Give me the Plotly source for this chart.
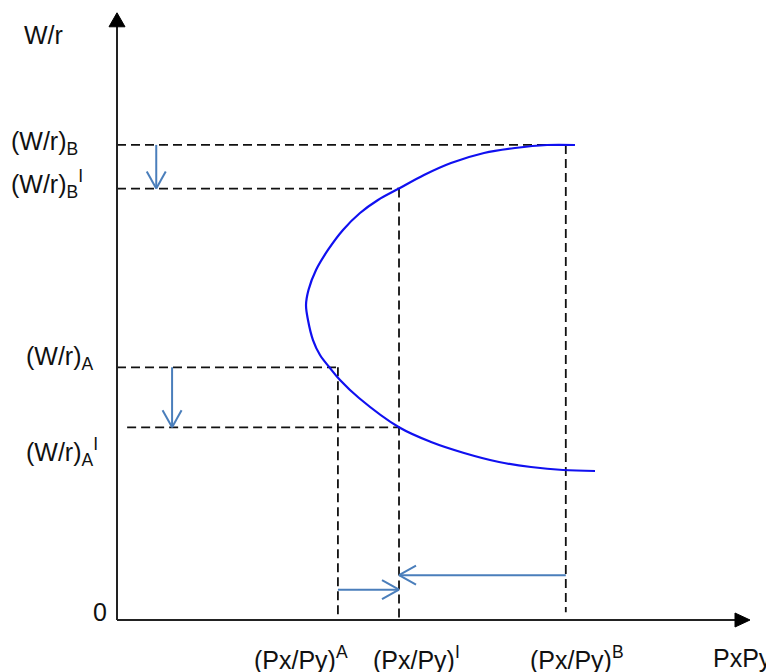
import plotly.graph_objects as go

# ---------------- data (arbitrary model units) ----------------
wr_levels = {"B": 7.84, "B1": 7.12, "A": 4.17, "A1": 3.18}
px_levels = {"A": 3.49, "I": 4.455, "B": 7.09}

curve_x = [7.235, 6.793, 6.288, 5.798, 5.276, 4.850, 4.455, 4.123, 3.839, 3.570,
           3.333, 3.144, 3.025, 2.986, 3.017, 3.096, 3.207, 3.365, 3.523, 3.823,
           4.455, 4.961, 5.482, 6.035, 6.540, 7.046, 7.551]
curve_y = [7.838, 7.838, 7.789, 7.706, 7.541, 7.343, 7.120, 6.931, 6.716, 6.436,
           6.106, 5.776, 5.446, 5.198, 4.950, 4.620, 4.373, 4.158, 3.960, 3.663,
           3.180, 2.937, 2.756, 2.607, 2.525, 2.475, 2.459]

axis_max = [10.0, 10.02]          # x-axis end, y-axis end
shift_arrow_x = [0.62, 0.87]      # x of the two downward shift arrows
shift_arrow_y = [0.50, 0.74]      # y of the two horizontal shift arrows

x_labels = ["(Px/Py)<sup>A</sup>", "(Px/Py)<sup>I</sup>", "(Px/Py)<sup>B</sup>", "PxPy"]
y_labels = ["(W/r)<sub>B</sub>", "(W/r)<sub>B</sub><sup>I</sup>",
            "(W/r)<sub>A</sub>", "(W/r)<sub>A</sub><sup>I</sup>"]

# ---------------- figure ----------------
# page has an 8px body margin, so the figure is 766x664
W, H = 766, 664
X_RANGE = [-1.722, 10.379]
Y_RANGE = [-0.858, 10.099]

BLUE = "#4A7EBB"
FONT = dict(family="Liberation Sans, Arial, sans-serif", size=25, color="#111111")

fig = go.Figure()
fig.add_trace(go.Scatter(x=curve_x, y=curve_y, mode="lines",
                         line=dict(color="#1010F0", width=2.2, shape="spline", smoothing=1.0),
                         hoverinfo="skip", showlegend=False))

shapes = []
dash = "9px,5px"
def dline(x0, y0, x1, y1):
    shapes.append(dict(type="line", xref="x", yref="y", x0=x0, y0=y0, x1=x1, y1=y1,
                       line=dict(color="#111111", width=1.8, dash=dash), layer="below"))

# dashed guides
dline(0, wr_levels["B"], px_levels["B"], wr_levels["B"])
dline(0, wr_levels["B1"], px_levels["I"], wr_levels["B1"])
dline(0, wr_levels["A"], px_levels["A"], wr_levels["A"])
dline(0.16, wr_levels["A1"], px_levels["I"], wr_levels["A1"])
dline(px_levels["B"], wr_levels["B"], px_levels["B"], 0.13)
dline(px_levels["I"], wr_levels["B1"], px_levels["I"], 0)
dline(px_levels["A"], wr_levels["A"], px_levels["A"], 0)

# axes
AX = "#222222"
shapes.append(dict(type="line", xref="x", yref="y", x0=0, y0=0, x1=axis_max[0] - 0.2, y1=0,
                   line=dict(color=AX, width=2)))
shapes.append(dict(type="line", xref="x", yref="y", x0=0, y0=0, x1=0, y1=axis_max[1] - 0.2,
                   line=dict(color=AX, width=2)))
shapes.append(dict(type="path", xref="x", yref="y", xsizemode="pixel", ysizemode="pixel",
                   xanchor=axis_max[0], yanchor=0, path="M0,0 L-15,7 L-15,-7 Z",
                   fillcolor="black", line=dict(color="black", width=1)))
shapes.append(dict(type="path", xref="x", yref="y", xsizemode="pixel", ysizemode="pixel",
                   xanchor=0, yanchor=axis_max[1], path="M0,0 L-8,-14 L8,-14 Z",
                   fillcolor="black", line=dict(color="black", width=1)))

# blue shift arrows
def arrow(x0, y0, x1, y1, direction):
    shapes.append(dict(type="line", xref="x", yref="y", x0=x0, y0=y0, x1=x1, y1=y1,
                       line=dict(color=BLUE, width=2)))
    back, lat = 17, 9.5
    if direction == "down":
        barbs = [(-lat, back), (lat, back)]
    elif direction == "right":
        barbs = [(-back, lat), (-back, -lat)]
    else:  # left
        barbs = [(back, lat), (back, -lat)]
    for bx, by in barbs:
        shapes.append(dict(type="line", xref="x", yref="y", xsizemode="pixel", ysizemode="pixel",
                           xanchor=x1, yanchor=y1, x0=0, y0=0, x1=bx, y1=by,
                           line=dict(color=BLUE, width=2)))

arrow(shift_arrow_x[0], wr_levels["B"], shift_arrow_x[0], wr_levels["B1"], "down")
arrow(shift_arrow_x[1], wr_levels["A"], shift_arrow_x[1], wr_levels["A1"], "down")
arrow(px_levels["A"], shift_arrow_y[0], px_levels["I"], shift_arrow_y[0], "right")
arrow(px_levels["B"], shift_arrow_y[1], px_levels["I"], shift_arrow_y[1], "left")

# labels
ann = []
def label(text, x, y, xanchor="left", yshift=0):
    ann.append(dict(text=text, x=x, y=y, xref="x", yref="y", showarrow=False,
                    xanchor=xanchor, yanchor="middle", yshift=yshift, font=FONT))

label("W/r", -1.5, 9.66)
label(y_labels[0], -1.71, wr_levels["B"], yshift=2)
label(y_labels[1], -1.71, wr_levels["B1"], yshift=5)
label(y_labels[2], -1.47, wr_levels["A"], yshift=9)
label(y_labels[3], -1.47, wr_levels["A1"], yshift=-25)
label("0", -0.27, 0.13, xanchor="center")
xl_pos = [2.13, 4.02, 6.50, 9.38]
for t, xp in zip(x_labels, xl_pos):
    label(t, xp, -0.63)

fig.update_layout(
    width=W, height=H,
    margin=dict(l=0, r=0, t=0, b=0),
    paper_bgcolor="white", plot_bgcolor="white",
    xaxis=dict(range=X_RANGE, visible=False, fixedrange=True),
    yaxis=dict(range=Y_RANGE, visible=False, fixedrange=True),
    shapes=shapes, annotations=ann, showlegend=False,
)

fig.write_html("out.html")
